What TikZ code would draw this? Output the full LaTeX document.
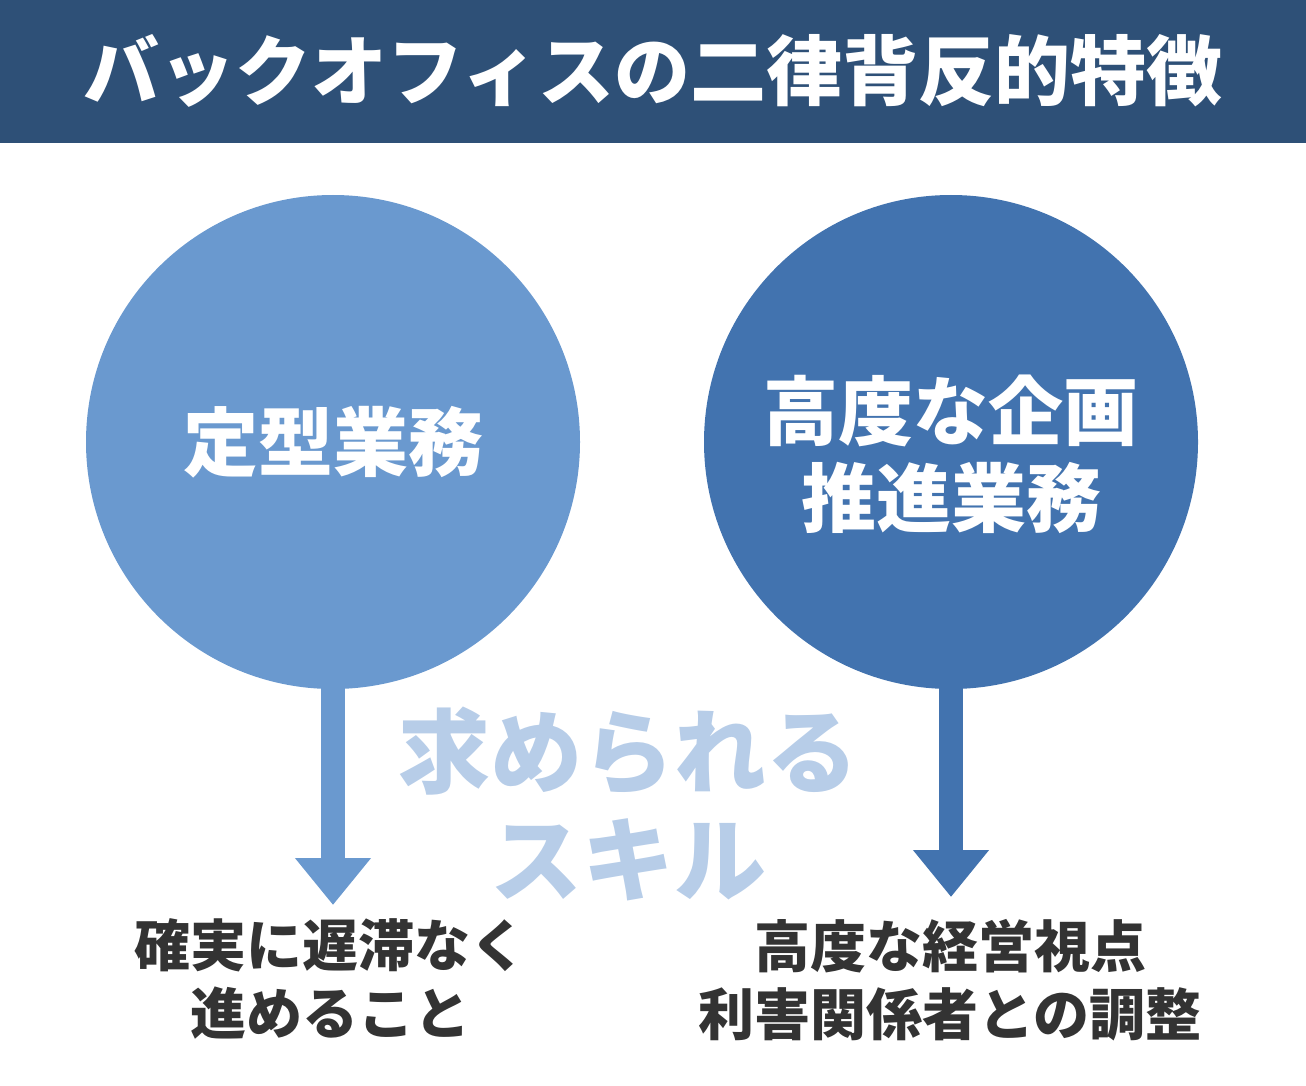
\documentclass[tikz,border=0pt]{standalone}
\usepackage{fontspec}
\setmainfont{Noto Sans CJK JP}
\usetikzlibrary{arrows.meta}

\definecolor{titleblue}{HTML}{2E5077}
\definecolor{lightblue}{HTML}{6A99CF}
\definecolor{darkblue}{HTML}{4273AF}
\definecolor{paleblue}{HTML}{B7CDE8}
\definecolor{textgray}{HTML}{333333}

\begin{document}
\begin{tikzpicture}[x=1pt, y=-1pt,
    bubble/.style={circle, minimum size=494pt, inner sep=0pt, outer sep=0pt},
    bubbletext/.style={text=white, align=center, font=\fontsize{75}{87}\selectfont\bfseries},
    skillarrow/.style={line width=24pt, -{Triangle[width=73pt, length=47pt]}, shorten <=-1pt},
    result/.style={text=textgray, align=center, font=\fontsize{56}{68}\selectfont\bfseries}]
    \useasboundingbox (0,0) rectangle (1306,1086);

    % Title bar
    \fill[titleblue] (0,0) rectangle (1306,143);
    \node[text=white, font=\fontsize{76}{90}\selectfont\bfseries] (title) at (653,71) {バックオフィスの二律背反的特徴};

    % Draw circles
    \node[bubble, fill=lightblue] (routine) at (333,442) {};
    \node[bubble, fill=darkblue] (planning) at (951,442) {};
    \node[bubbletext] (routine text) at (routine.center) {定型業務};
    \node[bubbletext] (planning text) at (951,454) {高度な企画\\推進業務};

    % Draw arrows
    \coordinate (routine tip) at (333,905);
    \coordinate (planning tip) at (951,897);
    \draw[skillarrow, lightblue] (routine.south) -- (routine tip);
    \draw[skillarrow, darkblue] (planning.south) -- (planning tip);

    % Add labels
    \node[text=paleblue, align=center, font=\fontsize{92}{108}\selectfont\bfseries] (skills) at (628,804) {求められる\\スキル};
    \node[result] (routine skill) at (330,979) {確実に遅滞なく\\進めること};
    \node[result] (planning skill) at (950,980) {高度な経営視点\\利害関係者との調整};
\end{tikzpicture}
\end{document}
